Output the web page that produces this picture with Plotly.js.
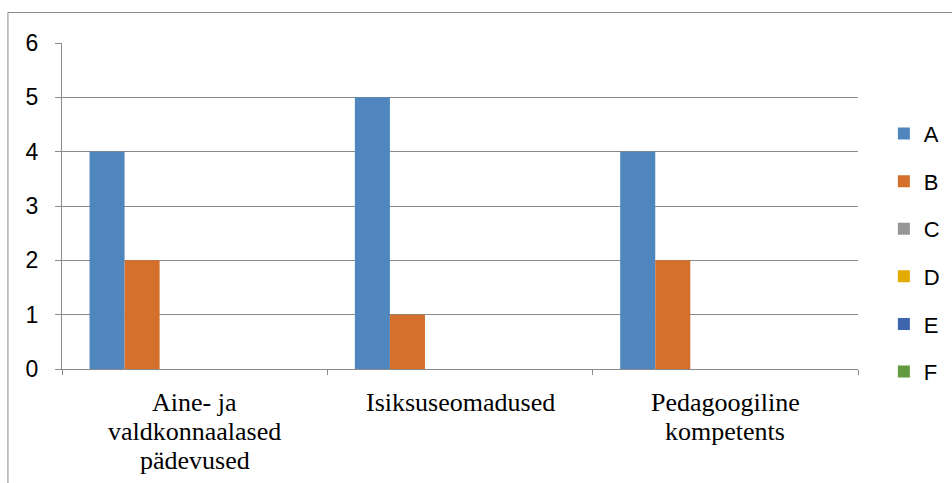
<!DOCTYPE html>
<html>
<head>
<meta charset="utf-8">
<script src="https://cdn.plot.ly/plotly-3.0.1.min.js"></script>
<style>html,body{margin:0;padding:0;background:#fff;}#chart{width:952px;height:483px;}</style>
</head>
<body>
<div id="chart"></div>
<script>
var categories = ["Aine- ja valdkonnaalased pädevused", "Isiksuseomadused", "Pedagoogiline kompetents"];
var categoryLines = [["Aine- ja", "valdkonnaalased", "pädevused"], ["Isiksuseomadused"], ["Pedagoogiline", "kompetents"]];
var seriesNames = ["A", "B", "C", "D", "E", "F"];
var valuesA = [4, 5, 4];
var valuesB = [2, 1, 2];
var valuesC = [0, 0, 0];
var valuesD = [0, 0, 0];
var valuesE = [0, 0, 0];
var valuesF = [0, 0, 0];
var seriesColors = ["#4F86BD", "#D4702B", "#969696", "#E3AA00", "#3E64AE", "#629A3F"];
var yTicks = [0, 1, 2, 3, 4, 5, 6];

var allValues = [valuesA, valuesB, valuesC, valuesD, valuesE, valuesF];
var traces = seriesNames.map(function (name, i) {
  return {
    type: "bar",
    name: name,
    x: categories,
    y: allValues[i],
    legendgroup: name,
    marker: { color: seriesColors[i], line: { width: 0 } },
    hoverinfo: "none"
  };
});

var annotations = [];
categories.forEach(function (cat, ci) {
  categoryLines[ci].forEach(function (line, li) {
    annotations.push({
      x: cat, xref: "x", y: 0, yref: "paper",
      text: line, showarrow: false,
      xanchor: "center", yanchor: "middle",
      yshift: -(33 + li * 29),
      font: { family: "Liberation Serif, Times New Roman, serif", size: 26, color: "#000" }
    });
  });
});

var layout = {
  width: 952, height: 483,
  margin: { l: 62, r: 94, t: 43, b: 114, pad: 0, autoexpand: false },
  paper_bgcolor: "#fff", plot_bgcolor: "#fff",
  barmode: "group", bargap: 0.2075, bargroupgap: 0,
  showlegend: true,
  legend: {
    x: 1.0325, y: 0.786, xanchor: "left", yanchor: "top",
    traceorder: "grouped", tracegroupgap: 16,
    font: { family: "Liberation Sans, Arial, sans-serif", size: 22, color: "#000" },
    bgcolor: "rgba(0,0,0,0)"
  },
  xaxis: {
    type: "category", categoryorder: "array", categoryarray: categories,
    showticklabels: false, showgrid: false, zeroline: false,
    showline: true, linecolor: "#8a8a8a", linewidth: 1,
    ticks: "outside", tickson: "boundaries", ticklen: 5, tickcolor: "#8a8a8a", tickwidth: 1
  },
  yaxis: {
    range: [0, 6], tickvals: yTicks, ticktext: yTicks.map(String),
    showgrid: true, gridcolor: "#8a8a8a", gridwidth: 1, zeroline: false,
    showline: true, linecolor: "#8a8a8a", linewidth: 1,
    ticks: "outside", ticklen: 6, tickcolor: "#8a8a8a", tickwidth: 1,
    ticklabelstandoff: 12,
    tickfont: { family: "Liberation Sans, Arial, sans-serif", size: 23, color: "#000" }
  },
  annotations: annotations,
  shapes: [{
    type: "rect", xref: "paper", yref: "paper",
    x0: (8 - 62) / 795, x1: 1.2, y0: -0.4, y1: 1 + (43 - 12.5) / 326,
    line: { color: "#8a8a8a", width: 1 }, fillcolor: "rgba(0,0,0,0)", layer: "below"
  }],
  hovermode: false
};

Plotly.newPlot("chart", traces, layout, { displayModeBar: false, staticPlot: true });
</script>
</body>
</html>
